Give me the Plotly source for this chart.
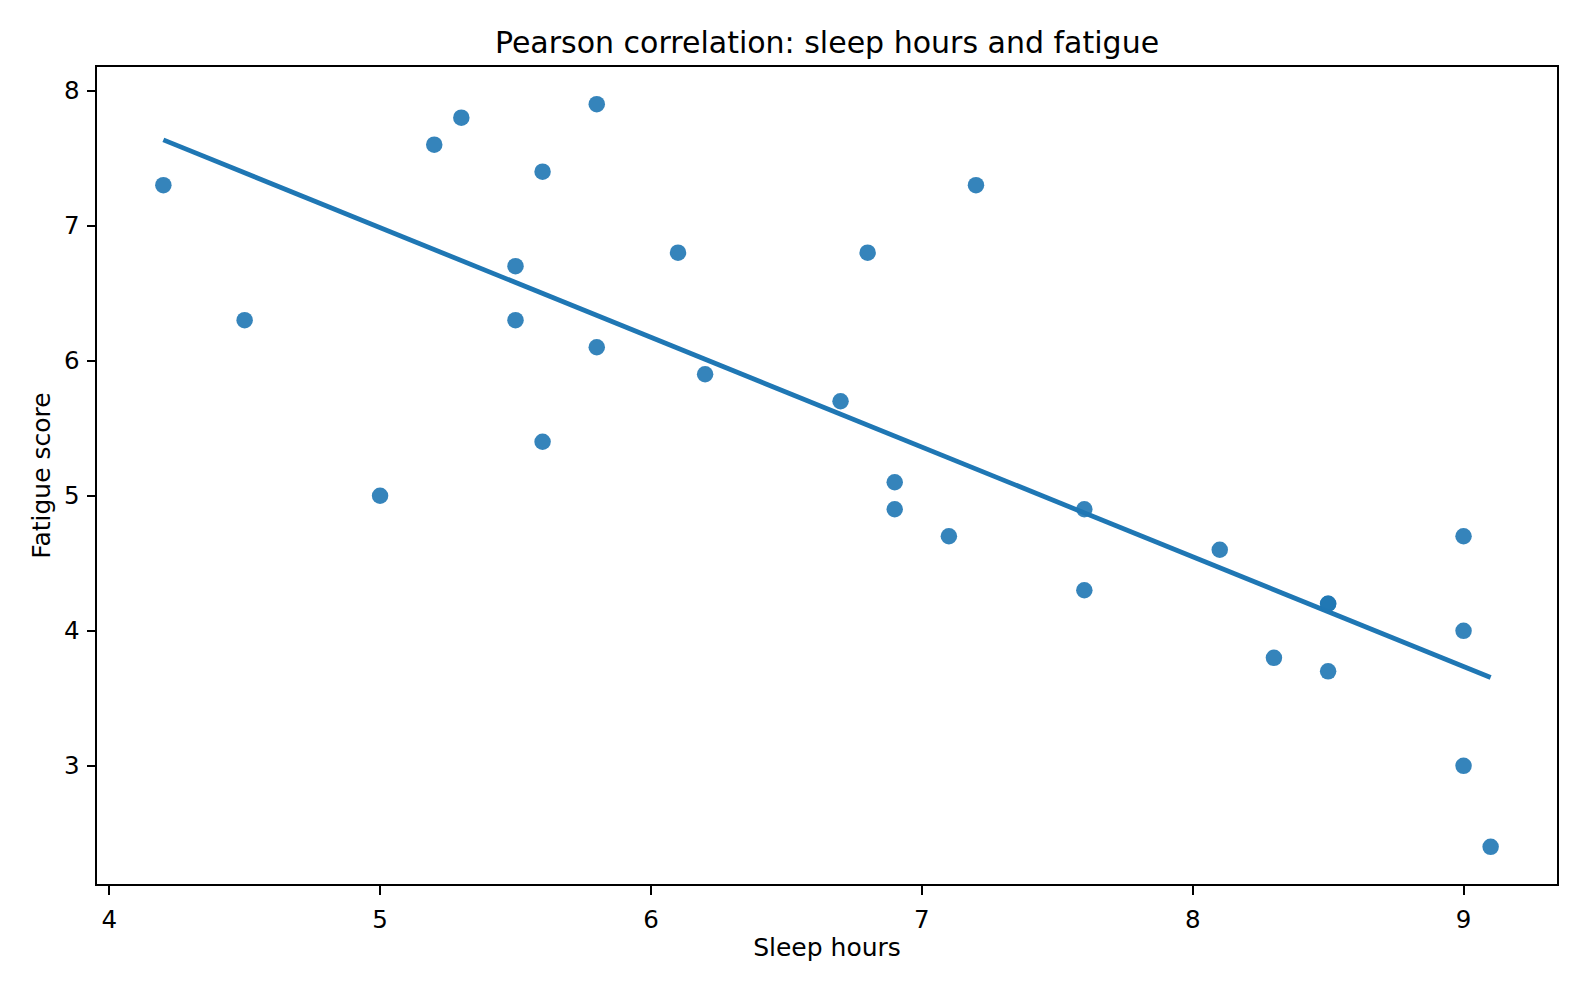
import numpy as np
import plotly.graph_objects as go

sleep_hours = [4.2, 4.5, 5.0, 5.2, 5.3, 5.5, 5.5, 5.6, 5.6, 5.8, 5.8, 6.1, 6.2, 6.7, 6.8,
               6.9, 6.9, 7.1, 7.2, 7.6, 7.6, 8.1, 8.3, 8.5, 8.5, 8.5, 9.0, 9.0, 9.0, 9.1]
fatigue = [7.3, 6.3, 5.0, 7.6, 7.8, 6.7, 6.3, 7.4, 5.4, 7.9, 6.1, 6.8, 5.9, 5.7, 6.8,
           5.1, 4.9, 4.7, 7.3, 4.9, 4.3, 4.6, 3.8, 4.2, 4.2, 3.7, 4.7, 4.0, 3.0, 2.4]
x_ticks = [4, 5, 6, 7, 8, 9]
y_ticks = [3, 4, 5, 6, 7, 8]

TITLE = "Pearson correlation: sleep hours and fatigue"
X_LABEL = "Sleep hours"
Y_LABEL = "Fatigue score"

x = np.array(sleep_hours)
y = np.array(fatigue)
slope, intercept = np.polyfit(x, y, 1)
line_x = np.array([x.min(), x.max()])
line_y = slope * line_x + intercept

def padded(lo, hi, frac=0.05):
    d = (hi - lo) * frac
    return [lo - d, hi + d]

x_range = padded(x.min(), x.max())
y_range = padded(min(y.min(), line_y.min()), max(y.max(), line_y.max()))

BLUE = "#1f77b4"
FONT = "DejaVu Sans"

fig = go.Figure()
fig.add_trace(go.Scatter(
    x=line_x, y=line_y, mode="lines",
    line=dict(color=BLUE, width=4.8),
    showlegend=False, hoverinfo="skip",
))
fig.add_trace(go.Scatter(
    x=x, y=y, mode="markers",
    marker=dict(color=BLUE, size=16.5, opacity=0.9, line=dict(width=0)),
    showlegend=False, hoverinfo="x+y",
))

axis_common = dict(
    showgrid=False, zeroline=False,
    showline=True, linecolor="black", linewidth=2, mirror=True,
    ticks="outside", ticklen=8.5, tickwidth=2, tickcolor="black",
    tickfont=dict(family=FONT, size=24.5, color="black"),
)

fig.update_layout(
    width=1584, height=990,
    paper_bgcolor="white", plot_bgcolor="white",
    margin=dict(l=89, r=35, t=59, b=114),
    title=dict(text=TITLE, x=0.5, xref="paper", xanchor="center",
               y=1 - 34 / 990, yanchor="middle",
               font=dict(family=FONT, size=30, color="black")),
    xaxis=dict(range=x_range, tickvals=x_ticks, ticklabelstandoff=4,
               title=dict(text=X_LABEL, font=dict(family=FONT, size=25, color="black"), standoff=6),
               **axis_common),
    yaxis=dict(range=y_range, tickvals=y_ticks, ticklabelstandoff=2,
               title=dict(text=Y_LABEL, font=dict(family=FONT, size=25, color="black"), standoff=6),
               **axis_common),
    font=dict(family=FONT, color="black"),
)

fig.write_html("out.html")
